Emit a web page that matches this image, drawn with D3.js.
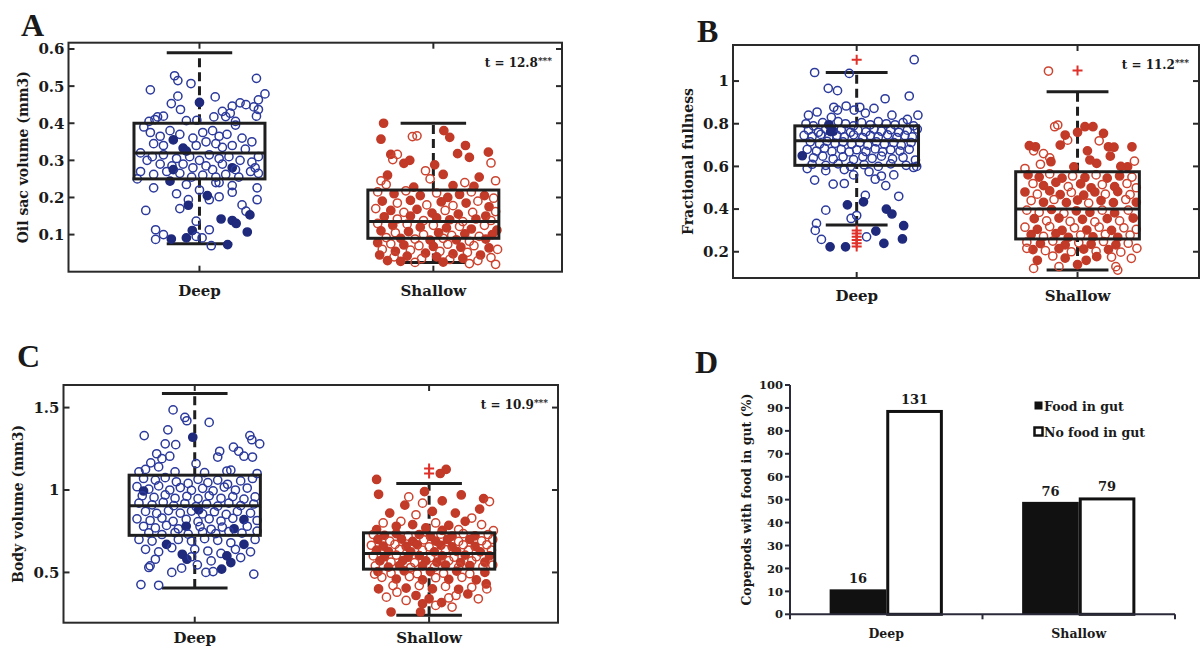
<!DOCTYPE html>
<html><head><meta charset="utf-8">
<script src="https://cdn.jsdelivr.net/npm/d3@7"></script>
<style>
body{margin:0;background:#fff}
svg{display:block}
text{font-family:"DejaVu Serif",serif;font-weight:bold;fill:#1a1a1a}
</style>
</head><body>
<svg id="fig" width="1202" height="649"></svg>
<script>
// ---- shared categories ----
const groups = ["Deep", "Shallow"];

// ---- A: oil sac volume (mm3); points are [jitter, value, foodInGut] ----
const oilDeep = [
[-0.75,0.490,0],[-0.38,0.528,0],[-0.33,0.515,0],[-0.13,0.507,0],[-0.33,0.473,0],[-0.43,0.453,0],[-0.29,0.437,0],[0.00,0.456,1],[0.24,0.471,0],[0.50,0.446,0],[0.62,0.455,0],[0.71,0.450,0],[0.83,0.444,0],[0.87,0.521,0],[1.00,0.479,0],[0.90,0.463,0],[0.90,0.437,0],[0.87,0.419,0],[0.47,0.427,0],[0.35,0.432,0],[0.40,0.418,0],[0.22,0.417,0],[-0.55,0.419,0],[-0.64,0.417,0],[-0.20,0.407,0],[-0.04,0.408,0],[-0.77,0.405,0],[-0.68,0.410,0],[0.55,0.405,0],
[-0.85,0.390,0],[-0.75,0.375,0],[-0.60,0.365,0],[-0.45,0.380,0],[-0.30,0.370,0],[-0.10,0.360,0],[0.05,0.375,0],[0.20,0.380,0],[0.30,0.365,0],[0.42,0.370,0],[0.55,0.395,0],[0.65,0.360,0],[0.80,0.350,0],[-0.70,0.345,0],[-0.55,0.340,0],[-0.40,0.355,1],[-0.25,0.333,1],[-0.20,0.325,1],[-0.05,0.340,0],[0.10,0.350,0],[0.25,0.345,0],[0.35,0.335,0],[0.50,0.340,0],[0.70,0.330,0],[0.90,0.310,0],
[-0.90,0.320,0],[-0.72,0.310,0],[-0.55,0.315,0],[-0.35,0.305,0],[-0.15,0.310,0],[0.00,0.300,0],[0.15,0.315,0],[0.30,0.305,0],[0.45,0.310,0],[0.62,0.300,0],[0.80,0.295,0],[-0.80,0.300,0],[-0.60,0.290,0],[-0.42,0.285,0],[-0.25,0.290,0],[-0.10,0.280,0],[0.10,0.285,0],[0.20,0.275,0],[0.35,0.290,0],[0.50,0.280,1],[0.55,0.275,0],[0.78,0.270,0],[0.90,0.265,0],
[-0.90,0.270,0],[-0.70,0.262,0],[-0.50,0.270,0],[-0.40,0.275,1],[-0.30,0.265,0],[-0.12,0.255,0],[0.05,0.260,0],[0.25,0.255,0],[0.40,0.262,0],[0.60,0.255,0],[0.85,0.280,0],[-0.95,0.250,0],[-0.45,0.244,1],[-0.20,0.235,0],[0.25,0.240,0],[0.50,0.232,0],
[-0.70,0.226,0],[-0.82,0.165,0],[-0.17,0.194,0],[0.15,0.194,0],[0.30,0.202,0],[0.50,0.214,0],[0.88,0.194,0],[0.88,0.226,0],[0.71,0.163,0],[-0.17,0.179,1],[0.12,0.205,1],[0.33,0.142,1],[0.50,0.138,1],[0.56,0.130,1],[0.77,0.153,1],[0.73,0.107,1],[-0.11,0.111,1],[-0.20,0.091,1],[-0.43,0.088,1],[0.43,0.073,1],[-0.67,0.113,0],[-0.55,0.100,0],[-0.67,0.087,0],[-0.05,0.095,0],[0.04,0.091,0],[0.18,0.070,0],[-0.05,0.136,0],[0.15,0.113,0],[-0.30,0.170,0],[0.30,0.240,0],[-0.35,0.210,0],[0.00,0.220,0],[0.65,0.180,0]
];
const oilShallow = [
[-0.76,0.400,1],[-0.80,0.357,1],[-0.65,0.316,1],[0.16,0.380,1],[0.25,0.362,1],[0.49,0.340,1],[0.37,0.318,1],[0.84,0.322,1],[-0.45,0.292,1],[-0.36,0.300,1],[0.55,0.308,1],[0.70,0.255,1],[0.15,0.262,1],[-0.70,0.260,1],[0.02,0.288,1],
[-0.32,0.364,0],[-0.25,0.366,0],[0.88,0.293,0],[-0.55,0.316,0],[-0.62,0.302,0],[-0.12,0.272,0],[-0.05,0.250,0],[0.95,0.245,0],[-0.80,0.245,0],[-0.72,0.235,0],[0.48,0.240,0],[0.30,0.232,1],[-0.30,0.228,1],[0.62,0.230,1],
[-0.85,0.215,0],[-0.60,0.210,1],[-0.42,0.218,0],[-0.20,0.205,1],[0.05,0.212,0],[0.22,0.200,1],[0.40,0.208,1],[0.58,0.215,0],[0.78,0.205,1],[0.92,0.198,0],
[-0.78,0.190,1],[-0.55,0.185,0],[-0.35,0.192,1],[-0.10,0.180,0],[0.12,0.188,1],[0.30,0.178,0],[0.50,0.185,1],[0.68,0.190,0],[0.85,0.175,1],
[-0.88,0.170,0],[-0.65,0.165,1],[-0.45,0.160,0],[-0.25,0.168,1],[-0.02,0.158,1],[0.18,0.165,0],[0.38,0.155,1],[0.60,0.160,0],[0.80,0.150,1],[0.95,0.162,0],
[-0.75,0.148,1],[-0.55,0.142,0],[-0.35,0.150,1],[-0.15,0.138,0],[0.05,0.145,1],[0.25,0.140,1],[0.45,0.135,0],[0.65,0.142,1],[0.88,0.138,0],
[-0.85,0.130,0],[-0.62,0.125,1],[-0.40,0.128,0],[-0.20,0.120,1],[0.00,0.125,0],[0.20,0.118,1],[0.40,0.122,0],[0.58,0.115,1],[0.78,0.125,0],[0.97,0.112,1],
[-0.80,0.110,1],[-0.58,0.105,0],[-0.38,0.108,1],[-0.15,0.100,0],[0.08,0.105,1],[0.28,0.098,0],[0.48,0.102,1],[0.70,0.095,0],[0.90,0.100,1],
[-0.72,0.092,0],[-0.50,0.090,1],[-0.28,0.088,0],[-0.05,0.085,1],[0.15,0.090,0],[0.35,0.086,1],[0.55,0.082,0],[0.80,0.088,1],
[-0.85,0.078,1],[-0.65,0.075,0],[-0.45,0.072,1],[-0.22,0.070,0],[0.00,0.068,1],[0.22,0.074,0],[0.42,0.066,1],[0.62,0.070,0],[0.85,0.064,1],[0.98,0.060,0],
[-0.78,0.060,0],[-0.58,0.055,1],[-0.35,0.058,0],[-0.12,0.050,1],[0.10,0.055,0],[0.30,0.048,1],[0.52,0.052,0],[0.72,0.045,1],
[-0.82,0.045,1],[-0.60,0.040,0],[-0.40,0.042,1],[-0.18,0.035,0],[0.05,0.040,1],[0.25,0.033,0],[0.45,0.036,1],[0.68,0.030,0],[0.88,0.038,0],
[-0.50,0.028,1],[-0.28,0.025,0],[0.15,0.026,1],[0.55,0.022,0],[0.95,0.020,0],[-0.70,0.030,1]
];
// box statistics per group: [lower whisker, Q1, median, Q3, upper whisker]
const oilBox = [[0.075,0.25,0.32,0.40,0.59],[0.025,0.09,0.135,0.22,0.40]];
const oilOutliers = [[],[]];
const oilTicks = [0.1,0.2,0.3,0.4,0.5,0.6];

// ---- B: fractional fullness ----
const fullDeep = [
[-0.68,1.040,0],[-0.12,1.036,0],[0.93,1.100,0],[-0.46,0.966,0],[-0.31,0.955,0],[0.46,0.917,0],[0.85,0.930,0],
[-0.37,0.877,0],[-0.31,0.864,0],[-0.17,0.883,0],[-0.04,0.864,0],[0.05,0.877,0],[0.28,0.872,0],[0.99,0.840,0],[-0.78,0.840,0],[-0.64,0.855,0],[-0.41,0.830,0],[0.14,0.850,0],[0.57,0.840,0],[0.82,0.820,0],
[-0.82,0.800,0],[-0.70,0.790,0],[-0.55,0.805,0],[-0.45,0.795,1],[-0.30,0.810,0],[-0.18,0.800,0],[-0.05,0.790,0],[0.08,0.805,0],[0.22,0.795,0],[0.35,0.810,0],[0.48,0.800,0],[0.62,0.795,0],[0.75,0.805,0],[0.92,0.790,0],
[-0.78,0.770,0],[-0.62,0.760,0],[-0.50,0.775,0],[-0.38,0.765,1],[-0.25,0.772,0],[-0.10,0.760,0],[0.02,0.770,0],[0.15,0.762,0],[0.28,0.775,0],[0.40,0.765,0],[0.55,0.772,0],[0.68,0.760,0],[0.82,0.770,0],[0.98,0.775,0],
[-0.85,0.745,0],[-0.72,0.740,0],[-0.58,0.750,0],[-0.45,0.735,0],[-0.32,0.745,0],[-0.20,0.738,0],[-0.05,0.748,0],[0.10,0.735,0],[0.22,0.745,0],[0.35,0.738,0],[0.50,0.748,0],[0.65,0.735,0],[0.78,0.745,0],[0.90,0.738,0],
[-0.75,0.715,0],[-0.60,0.705,0],[-0.48,0.718,0],[-0.35,0.708,0],[-0.22,0.715,0],[-0.08,0.705,0],[0.05,0.712,0],[0.18,0.700,0],[0.32,0.715,0],[0.45,0.705,0],[0.60,0.712,0],[0.72,0.700,0],[0.88,0.712,0],
[-0.80,0.680,0],[-0.65,0.672,0],[-0.52,0.685,0],[-0.40,0.670,0],[-0.25,0.680,0],[-0.12,0.668,0],[0.00,0.678,0],[0.15,0.670,0],[0.30,0.682,0],[0.42,0.668,0],[0.55,0.678,0],[0.70,0.672,0],[0.85,0.680,0],
[-0.88,0.650,1],[-0.70,0.640,0],[-0.55,0.648,0],[-0.38,0.635,0],[-0.22,0.645,0],[-0.05,0.632,0],[0.10,0.645,0],[0.25,0.638,0],[0.40,0.648,0],[0.58,0.635,0],[0.75,0.642,0],[0.95,0.630,0],
[-0.72,0.610,0],[-0.50,0.605,0],[-0.30,0.612,0],[-0.10,0.600,0],[0.12,0.608,0],[0.35,0.600,0],[0.55,0.612,0],[0.80,0.605,0],[0.97,0.600,0],
[-0.80,0.590,0],[-0.50,0.580,0],[-0.20,0.585,0],[0.20,0.575,0],[0.60,0.560,0],[0.92,0.595,0],[-0.05,0.560,0],[0.40,0.555,0],
[-0.68,0.536,0],[-0.38,0.517,0],[-0.20,0.520,0],[0.30,0.540,0],[0.47,0.510,0],[0.14,0.464,0],[0.68,0.460,0],[-0.50,0.395,0],[-0.65,0.333,0],[-0.67,0.300,0],[-0.57,0.258,0],[0.16,0.270,0],[0.00,0.370,0],[-0.09,0.356,0],
[-0.15,0.420,1],[0.11,0.434,1],[0.48,0.400,1],[0.57,0.377,1],[0.31,0.297,1],[0.76,0.322,1],[0.74,0.260,1],[0.44,0.239,1],[-0.43,0.223,1],[-0.18,0.223,1],[-0.42,0.763,1]
];
const fullShallow = [
[-0.47,1.047,0],
[-0.37,0.786,0],[-0.32,0.794,0],[-0.16,0.723,0],[-0.71,0.673,0],[-0.55,0.660,0],[-0.45,0.640,0],
[-0.78,0.697,1],[-0.68,0.692,1],[0.12,0.786,1],[0.25,0.786,1],[0.42,0.755,1],[-0.20,0.747,1],[0.00,0.760,1],[0.50,0.692,1],[0.59,0.690,1],[0.88,0.692,1],[0.16,0.673,1],[0.53,0.648,1],[-0.43,0.622,1],[0.31,0.614,1],[-0.06,0.598,1],[0.81,0.598,1],[0.92,0.625,0],[0.70,0.600,1],[-0.28,0.700,1],[0.35,0.720,0],[-0.60,0.610,0],[0.20,0.630,1],[-0.85,0.590,0],
[-0.80,0.560,1],[-0.62,0.550,1],[-0.45,0.565,0],[-0.25,0.545,1],[-0.08,0.555,0],[0.12,0.548,1],[0.30,0.560,0],[0.48,0.545,1],[0.68,0.555,1],[0.88,0.550,0],
[-0.72,0.520,0],[-0.55,0.510,1],[-0.35,0.525,1],[-0.15,0.505,0],[0.05,0.518,1],[0.22,0.500,1],[0.40,0.515,0],[0.60,0.505,1],[0.80,0.520,0],[0.95,0.500,0],
[-0.85,0.480,1],[-0.65,0.470,0],[-0.45,0.485,1],[-0.28,0.468,1],[-0.10,0.478,0],[0.10,0.465,1],[0.28,0.480,1],[0.45,0.470,0],[0.65,0.482,1],[0.85,0.468,0],
[-0.75,0.440,0],[-0.55,0.432,1],[-0.38,0.445,0],[-0.18,0.430,1],[0.00,0.442,1],[0.18,0.428,0],[0.38,0.440,1],[0.58,0.430,1],[0.78,0.445,0],[0.95,0.432,1],
[-0.82,0.395,0],[-0.62,0.385,0],[-0.42,0.398,1],[-0.22,0.380,0],[-0.02,0.392,1],[0.20,0.385,1],[0.40,0.395,0],[0.60,0.382,1],[0.82,0.395,0],
[-0.70,0.355,1],[-0.50,0.345,0],[-0.30,0.358,1],[-0.12,0.342,0],[0.08,0.352,1],[0.28,0.340,0],[0.48,0.355,1],[0.68,0.345,0],[0.90,0.358,1],
[-0.85,0.315,0],[-0.65,0.305,1],[-0.45,0.318,0],[-0.25,0.300,1],[-0.05,0.312,0],[0.15,0.302,1],[0.35,0.315,0],[0.55,0.300,1],[0.75,0.312,0],[0.95,0.305,0],
[-0.75,0.280,1],[-0.55,0.272,0],[-0.35,0.285,1],[-0.15,0.268,1],[0.05,0.278,0],[0.25,0.270,1],[0.45,0.282,0],[0.65,0.268,1],[0.85,0.278,0],
[-0.82,0.245,0],[-0.60,0.238,1],[-0.40,0.250,0],[-0.20,0.232,1],[0.02,0.242,0],[0.22,0.235,1],[0.42,0.248,0],[0.62,0.232,1],[0.82,0.240,0],
[-0.72,0.210,1],[-0.52,0.205,0],[-0.30,0.215,1],[-0.10,0.200,0],[0.10,0.212,1],[0.30,0.202,0],[0.50,0.210,1],[0.70,0.198,0],[0.96,0.216,0],[-0.82,0.216,0],
[-0.65,0.160,1],[0.14,0.160,1],[0.31,0.177,1],[-0.40,0.180,0],[0.55,0.175,0],[0.87,0.169,0],[-0.20,0.170,1],[-0.71,0.122,0],[0.62,0.130,0],[0.65,0.114,0],[0.00,0.140,1],[-0.30,0.130,0]
];
const fullBox = [[0.325,0.605,0.72,0.79,1.04],[0.115,0.26,0.40,0.575,0.95]];
const fullOutliers = [[1.10,0.300,0.285,0.270,0.255,0.240,0.225],[1.05]];
const fullTicks = [0.2,0.4,0.6,0.8,1];

// ---- C: body volume (mm3) ----
const bodyDeep = [
[-0.33,1.486,0],[-0.15,1.440,0],[-0.12,1.420,0],[0.22,1.410,0],[-0.77,1.330,0],[-0.41,1.365,0],[-0.45,1.280,0],[-0.29,1.275,0],[0.84,1.330,0],[0.87,1.305,0],[0.99,1.280,0],[0.59,1.260,0],[0.67,1.235,0],[0.75,1.205,0],[0.88,1.200,0],[0.38,1.235,0],[0.35,1.200,0],[-0.58,1.220,0],[-0.67,1.165,0],[-0.75,1.125,0],[-0.50,1.190,0],[-0.38,1.205,0],[-0.55,1.140,0],[0.49,1.115,0],[0.55,1.120,0],[-0.03,1.320,1],[0.02,1.160,0],[-0.30,1.110,0],[0.15,1.105,0],[0.95,1.100,0],[-0.85,1.110,0],
[-0.78,1.070,0],[-0.60,1.060,0],[-0.45,1.075,0],[-0.28,1.050,0],[-0.10,1.040,0],[0.05,1.065,0],[0.20,1.045,0],[0.35,1.060,0],[0.50,1.035,0],[0.70,1.055,0],[0.88,1.070,0],
[-0.88,1.020,0],[-0.70,1.005,0],[-0.55,1.025,0],[-0.38,1.000,0],[-0.22,1.015,0],[-0.05,0.998,0],[0.12,1.010,0],[0.28,0.995,0],[0.45,1.018,0],[0.62,1.000,0],[0.80,1.012,0],
[-0.78,0.994,1],[-0.80,0.965,0],[-0.62,0.955,0],[-0.45,0.970,0],[-0.30,0.950,0],[-0.12,0.962,0],[0.05,0.948,0],[0.22,0.965,0],[0.40,0.950,0],[0.58,0.960,0],[0.75,0.945,0],[0.92,0.958,0],
[-0.85,0.920,0],[-0.65,0.910,0],[-0.48,0.925,0],[-0.32,0.905,0],[-0.15,0.918,0],[0.02,0.900,0],[0.18,0.915,0],[0.35,0.902,0],[0.52,0.920,0],[0.70,0.905,0],[0.90,0.915,0],
[-0.75,0.870,0],[-0.58,0.858,0],[-0.40,0.875,0],[-0.22,0.860,0],[-0.05,0.872,0],[0.06,0.880,1],[0.12,0.855,0],[0.30,0.868,0],[0.48,0.852,0],[0.65,0.870,0],[0.85,0.860,0],
[-0.88,0.825,0],[-0.68,0.815,0],[-0.50,0.830,0],[-0.33,0.810,0],[-0.13,0.822,0],[0.05,0.808,0],[0.22,0.825,0],[0.40,0.812,0],[0.58,0.828,0],[0.75,0.820,1],[0.95,0.815,0],
[-0.78,0.780,0],[-0.60,0.770,0],[-0.43,0.785,0],[-0.25,0.765,0],[-0.13,0.780,1],[0.08,0.778,0],[0.25,0.762,0],[0.42,0.775,0],[0.60,0.765,1],[0.80,0.780,0],[0.95,0.750,0],
[-0.70,0.740,0],[-0.50,0.730,0],[-0.30,0.742,0],[-0.10,0.732,0],[0.12,0.745,0],[0.32,0.735,0],[0.52,0.748,0],[0.72,0.738,0],
[-0.85,0.700,0],[-0.65,0.690,0],[-0.43,0.670,1],[-0.25,0.700,0],[-0.05,0.690,0],[0.15,0.705,0],[0.35,0.695,0],[0.55,0.680,0],[0.75,0.670,1],[0.92,0.700,0],
[-0.75,0.640,0],[-0.55,0.625,0],[-0.35,0.650,0],[-0.19,0.610,1],[0.00,0.640,0],[0.20,0.630,0],[0.40,0.615,0],[0.62,0.640,0],[0.85,0.625,0],
[-0.12,0.580,1],[-0.05,0.595,0],[0.49,0.600,1],[0.55,0.560,1],[0.41,0.520,1],[-0.60,0.580,0],[-0.68,0.540,0],[-0.70,0.530,0],[0.25,0.570,0],[0.70,0.590,0],
[-0.82,0.426,0],[-0.55,0.422,0],[0.90,0.490,0],[0.17,0.500,0],[0.28,0.505,0],[-0.20,0.526,0],[0.04,0.546,0],[-0.35,0.500,0]
];
const bodyShallow = [
[-0.80,1.064,1],[0.26,1.125,1],[0.17,1.100,1],[-0.77,0.974,1],[-0.37,0.908,1],[-0.07,0.990,1],[0.20,0.934,1],[0.49,0.970,1],[0.83,0.948,1],[0.77,0.884,1],[-0.31,0.958,0],[-0.10,0.920,0],[0.92,0.930,0],[0.98,0.753,0],[-0.43,0.810,0],
[-0.60,0.860,1],[-0.20,0.850,0],[0.05,0.870,1],[0.40,0.860,1],[0.65,0.830,0],[-0.70,0.800,0],[-0.50,0.780,1],[-0.25,0.790,1],[0.10,0.800,0],[0.30,0.785,1],[0.55,0.810,1],[0.80,0.790,0],[-0.05,0.770,1],[0.45,0.760,0],[-0.80,0.760,1],[0.20,0.755,1],
[-0.85,0.730,0],[-0.68,0.725,1],[-0.50,0.735,1],[-0.32,0.720,0],[-0.15,0.730,1],[0.02,0.718,1],[0.18,0.732,0],[0.35,0.720,1],[0.52,0.735,0],[0.70,0.722,1],[0.90,0.730,0],
[-0.78,0.700,1],[-0.60,0.690,0],[-0.42,0.702,1],[-0.25,0.688,1],[-0.08,0.698,0],[0.10,0.690,1],[0.28,0.700,1],[0.45,0.688,0],[0.62,0.700,1],[0.80,0.692,0],[0.97,0.700,0],
[-0.88,0.665,0],[-0.70,0.660,1],[-0.52,0.670,0],[-0.35,0.658,1],[-0.18,0.668,1],[0.00,0.655,0],[0.18,0.665,1],[0.35,0.655,1],[0.52,0.668,0],[0.70,0.658,1],[0.88,0.668,0],
[-0.80,0.635,1],[-0.62,0.628,1],[-0.45,0.640,0],[-0.28,0.625,1],[-0.10,0.635,0],[0.08,0.625,1],[0.25,0.638,0],[0.42,0.628,1],[0.60,0.635,0],[0.78,0.625,1],[0.95,0.635,0],
[-0.85,0.600,0],[-0.68,0.595,1],[-0.50,0.605,0],[-0.32,0.592,1],[-0.15,0.602,1],[0.02,0.590,0],[0.20,0.600,1],[0.38,0.592,0],[0.55,0.605,1],[0.72,0.595,0],[0.92,0.600,1],
[-0.75,0.570,1],[-0.58,0.562,0],[-0.40,0.572,1],[-0.22,0.560,0],[-0.05,0.570,1],[0.12,0.562,1],[0.30,0.572,0],[0.48,0.560,1],[0.65,0.570,0],[0.85,0.562,1],
[-0.82,0.540,0],[-0.62,0.532,1],[-0.45,0.542,1],[-0.28,0.530,0],[-0.10,0.540,1],[0.08,0.532,0],[0.25,0.545,1],[0.45,0.532,0],[0.62,0.542,1],[0.82,0.535,0],[0.97,0.545,0],
[-0.78,0.505,1],[-0.58,0.495,0],[-0.38,0.510,1],[-0.18,0.492,0],[0.02,0.505,1],[0.22,0.495,0],[0.42,0.508,1],[0.62,0.492,0],[0.85,0.500,1],
[-0.83,0.490,0],[-0.72,0.470,0],[-0.50,0.460,1],[-0.30,0.475,0],[-0.10,0.455,1],[0.10,0.468,0],[0.30,0.458,1],[0.50,0.470,0],[0.72,0.455,1],[0.87,0.430,1],
[-0.77,0.400,1],[-0.55,0.420,0],[-0.35,0.405,1],[-0.15,0.420,0],[0.05,0.400,1],[0.25,0.415,0],[0.45,0.398,1],[0.65,0.410,0],[0.88,0.400,0],
[-0.49,0.380,0],[0.41,0.360,0],[0.59,0.369,1],[0.19,0.317,1],[-0.20,0.360,1],[0.00,0.340,1],[-0.65,0.350,0],[0.30,0.345,0],[0.75,0.340,0],[-0.35,0.330,0],
[-0.58,0.260,1],[-0.13,0.260,1],[0.10,0.300,0],[-0.10,0.310,1],[0.35,0.290,0]
];
const bodyBox = [[0.405,0.725,0.905,1.09,1.585],[0.24,0.52,0.615,0.74,1.04]];
const bodyOutliers = [[],[1.10,1.13]];
const bodyTicks = [0.5,1,1.5];

// ---- D: copepods with / without food in gut ----
const gutSeries = ["Food in gut", "No food in gut"];
const gutCounts = [[16,131],[76,79]];   // per group: [with food, without food]
const gutTicks = [0,10,20,30,40,50,60,70,80,90,100];

// ---- styling ----
const BLUE = "#2c3a9c", BLUE_FILL = "#1f2a7c";
const RED = "#cc4430", RED_FILL = "#c23a28", PLUS = "#e0302a";
const INK = "#1e1e1e";

const svg = d3.select("#fig");

function boxPanel(o) {
  const g = svg.append("g");
  const x = d3.scaleLinear().domain([0.44, 2.55]).range([o.x0, o.x1]);
  const y = d3.scaleLinear().domain(o.ydom).range([o.y1, o.y0]);
  const bw = 0.56, half = bw / 2;

  // frame
  g.append("rect").attr("x", o.x0).attr("y", o.y0)
    .attr("width", o.x1 - o.x0).attr("height", o.y1 - o.y0)
    .attr("fill", "none").attr("stroke", "#2a2a2a").attr("stroke-width", 2);

  // inward ticks on left / right
  o.ticks.forEach(t => {
    g.append("line").attr("x1", o.x0).attr("x2", o.x0 + 6).attr("y1", y(t)).attr("y2", y(t))
      .attr("stroke", "#2a2a2a").attr("stroke-width", 2);
    g.append("line").attr("x1", o.x1).attr("x2", o.x1 - 6).attr("y1", y(t)).attr("y2", y(t))
      .attr("stroke", "#2a2a2a").attr("stroke-width", 2);
    g.append("text").attr("x", o.x0 - 4).attr("y", y(t)).attr("dy", "0.36em")
      .attr("text-anchor", "end").attr("font-size", 15).text(d3.format("~g")(t));
  });
  // inward ticks top / bottom at categories + labels
  groups.forEach((name, i) => {
    const cx = x(i + 1);
    g.append("line").attr("x1", cx).attr("x2", cx).attr("y1", o.y1).attr("y2", o.y1 - 6)
      .attr("stroke", "#2a2a2a").attr("stroke-width", 2);
    g.append("line").attr("x1", cx).attr("x2", cx).attr("y1", o.y0).attr("y2", o.y0 + 6)
      .attr("stroke", "#2a2a2a").attr("stroke-width", 2);
    g.append("text").attr("x", cx).attr("y", o.y1 + o.catDy).attr("text-anchor", "middle")
      .attr("font-size", 15).text(name);
  });

  // whiskers
  o.box.forEach((b, i) => {
    const c = i + 1;
    const [lo, q1, med, q3, hi] = b;
    const bg = g.append("g").attr("stroke", INK).attr("fill", "none").attr("stroke-width", 3);
    bg.append("line").attr("x1", x(c)).attr("x2", x(c)).attr("y1", y(q3)).attr("y2", y(hi))
      .attr("stroke-dasharray", "9,5");
    bg.append("line").attr("x1", x(c)).attr("x2", x(c)).attr("y1", y(lo)).attr("y2", y(q1))
      .attr("stroke-dasharray", "9,5");
    [lo, hi].forEach(v => bg.append("line").attr("x1", x(c - half / 2)).attr("x2", x(c + half / 2))
      .attr("y1", y(v)).attr("y2", y(v)));
  });

  // individual copepods
  o.points.forEach((pts, i) => {
    const col = i === 0 ? BLUE : RED, fillCol = i === 0 ? BLUE_FILL : RED_FILL;
    g.append("g").selectAll("circle").data(pts).join("circle")
      .attr("cx", d => x(i + 1 + d[0] * half))
      .attr("cy", d => y(d[1]))
      .attr("r", 4.1)
      .attr("fill", d => d[2] ? fillCol : "none")
      .attr("stroke", d => d[2] ? fillCol : col)
      .attr("stroke-width", 1.5);
  });

  // box outlines and medians over the points
  o.box.forEach((b, i) => {
    const c = i + 1;
    const [lo, q1, med, q3, hi] = b;
    g.append("rect").attr("x", x(c - half)).attr("y", y(q3))
      .attr("width", x(c + half) - x(c - half)).attr("height", y(q1) - y(q3))
      .attr("fill", "none").attr("stroke", INK).attr("stroke-width", 3);
    g.append("line").attr("x1", x(c - half)).attr("x2", x(c + half)).attr("y1", y(med)).attr("y2", y(med))
      .attr("stroke", INK).attr("stroke-width", 3);
  });

  // outliers
  o.outliers.forEach((vals, i) => {
    vals.forEach(v => {
      const cx = x(i + 1), cy = y(v);
      g.append("path").attr("d", `M${cx - 5},${cy}H${cx + 5}M${cx},${cy - 5}V${cy + 5}`)
        .attr("stroke", PLUS).attr("stroke-width", 2).attr("fill", "none");
    });
  });

  // axis title
  g.append("text").attr("transform", `translate(${o.x0 - 45},${(o.y0 + o.y1) / 2}) rotate(-90)`)
    .attr("text-anchor", "middle").attr("dy", "0.35em").attr("font-size", 14).text(o.ylabel);

  // t statistic
  const tt = g.append("text").attr("x", o.x1 - 10).attr("y", o.y0 + 24)
    .attr("text-anchor", "end").attr("font-size", 12);
  tt.append("tspan").text(o.tstat);
  tt.append("tspan").attr("dy", -3).attr("font-size", 9).text("***");

  // panel letter
  svg.append("text").attr("x", o.lx).attr("y", o.ly).attr("font-size", 32)
    .style("font-family", "'Liberation Serif',serif").text(o.letter);
}

boxPanel({letter: "A", lx: 21, ly: 36, x0: 68.5, x1: 562, y0: 42.7, y1: 271.7, ydom: [0, 0.617],
  ticks: oilTicks, box: oilBox, points: [oilDeep, oilShallow], outliers: oilOutliers, catDy: 24,
  ylabel: "Oil sac volume (mm3)", tstat: "t = 12.8"});
boxPanel({letter: "B", lx: 697, ly: 42, x0: 733, x1: 1199, y0: 45, y1: 278, ydom: [0.077, 1.169],
  ticks: fullTicks, box: fullBox, points: [fullDeep, fullShallow], outliers: fullOutliers, catDy: 23,
  ylabel: "Fractional fullness", tstat: "t = 11.2"});
boxPanel({letter: "C", lx: 17, ly: 367, x0: 63.5, x1: 558, y0: 385, y1: 622.7, ydom: [0.195, 1.637],
  ticks: bodyTicks, box: bodyBox, points: [bodyDeep, bodyShallow], outliers: bodyOutliers, catDy: 20,
  ylabel: "Body volume (mm3)", tstat: "t = 10.9"});

// ---- panel D: grouped bars ----
(function () {
  const g = svg.append("g");
  const x0 = 790, x1 = 1175, yb = 614.3, yt = 385;
  const y = d3.scaleLinear().domain([0, 100]).range([yb, yt]);
  const xg = d3.scaleBand().domain(groups).range([x0, x1]);
  const xs = d3.scaleBand().domain(gutSeries).range([0, xg.bandwidth()]).paddingOuter(0.7);

  groups.forEach((name, gi) => {
    const total = d3.sum(gutCounts[gi]);
    gutSeries.forEach((s, si) => {
      const n = gutCounts[gi][si];
      const pct = n / total * 100;
      const bx = xg(name) + xs(s);
      g.append("rect").attr("x", bx + (si ? 1.5 : 0)).attr("y", y(pct) + (si ? 1.5 : 0))
        .attr("width", xs.bandwidth() - (si ? 3 : 0)).attr("height", yb - y(pct) - (si ? 1.5 : 0))
        .attr("fill", si ? "#fff" : "#111").attr("stroke", si ? "#111" : "none").attr("stroke-width", 3);
      g.append("text").attr("x", bx + xs.bandwidth() / 2).attr("y", y(pct) - 6)
        .attr("text-anchor", "middle").attr("font-size", 13).text(n);
    });
    g.append("text").attr("x", xg(name) + xg.bandwidth() / 2).attr("y", yb + 24)
      .attr("text-anchor", "middle").attr("font-size", 12.5).text(name);
  });

  // axes
  g.append("line").attr("x1", x0).attr("x2", x0).attr("y1", yt).attr("y2", yb)
    .attr("stroke", "#2a2a3a").attr("stroke-width", 2);
  g.append("line").attr("x1", x0).attr("x2", x1).attr("y1", yb).attr("y2", yb)
    .attr("stroke", "#2a2a3a").attr("stroke-width", 2);
  gutTicks.forEach(t => {
    g.append("line").attr("x1", x0 - 5).attr("x2", x0).attr("y1", y(t)).attr("y2", y(t))
      .attr("stroke", "#2a2a3a").attr("stroke-width", 2);
    g.append("text").attr("x", x0 - 7).attr("y", y(t)).attr("dy", "0.36em")
      .attr("text-anchor", "end").attr("font-size", 11.5).text(t);
  });
  [x0, xg("Shallow"), x1].forEach(v => g.append("line").attr("x1", v).attr("x2", v)
    .attr("y1", yb).attr("y2", yb + 5).attr("stroke", "#2a2a3a").attr("stroke-width", 2));

  g.append("text").attr("transform", `translate(747,${(yt + yb) / 2}) rotate(-90)`)
    .attr("text-anchor", "middle").attr("dy", "0.35em").attr("font-size", 12.5)
    .text("Copepods with food in gut (%)");

  // legend
  gutSeries.forEach((s, si) => {
    const ly = 406 + si * 26;
    g.append("rect").attr("x", 1034.5).attr("y", ly - 4.5).attr("width", 8).attr("height", 8)
      .attr("fill", si ? "#fff" : "#111").attr("stroke", "#111").attr("stroke-width", si ? 2.5 : 0);
    g.append("text").attr("x", 1044).attr("y", ly).attr("dy", "0.36em").attr("font-size", 12.5).text(s);
  });

  svg.append("text").attr("x", 695).attr("y", 373).attr("font-size", 32)
    .style("font-family", "'Liberation Serif',serif").text("D");
})();
</script>
</body></html>
